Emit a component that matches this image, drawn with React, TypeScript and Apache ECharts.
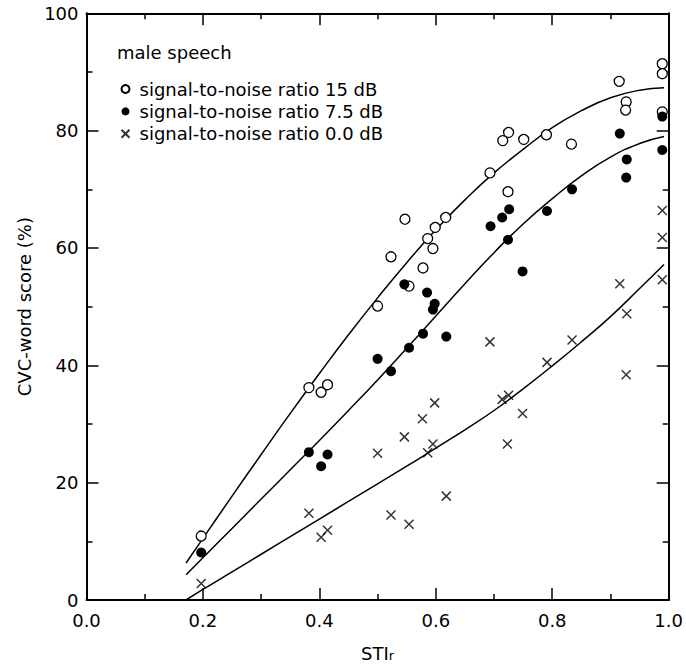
import React, { useEffect, useRef } from "react";
import * as echarts from "echarts";

const legendTitle = "male speech";
const seriesNames = [
  "signal-to-noise ratio 15 dB",
  "signal-to-noise ratio 7.5 dB",
  "signal-to-noise ratio 0.0 dB",
];
const xAxisMain = "STI";
const xAxisSub = "r";
const yAxisTitle = "CVC-word score (%)";

const xRange = [0, 1];
const xStep = 0.2;
const yRange = [0, 100];
const yStep = 20;

// open circles: S/N 15 dB
const snr15Points = [
  [0.197, 10.9], [0.382, 36.2], [0.403, 35.4], [0.414, 36.7], [0.5, 50.1],
  [0.523, 58.5], [0.547, 64.9], [0.554, 53.5], [0.578, 56.6], [0.586, 61.6],
  [0.595, 59.9], [0.599, 63.5], [0.617, 65.2], [0.693, 72.8], [0.715, 78.3],
  [0.725, 79.7], [0.724, 69.6], [0.751, 78.5], [0.79, 79.3], [0.833, 77.7],
  [0.915, 88.4], [0.927, 84.9], [0.926, 83.5], [0.989, 91.4], [0.989, 89.7],
  [0.989, 83.2],
];

// filled circles: S/N 7.5 dB
const snr75Points = [
  [0.197, 8.1], [0.382, 25.2], [0.403, 22.8], [0.414, 24.8], [0.5, 41.1],
  [0.523, 39.0], [0.546, 53.8], [0.554, 43.0], [0.578, 45.4], [0.585, 52.4],
  [0.598, 50.5], [0.595, 49.5], [0.618, 44.9], [0.694, 63.7], [0.714, 65.2],
  [0.726, 66.6], [0.724, 61.4], [0.749, 56.0], [0.791, 66.3], [0.834, 70.0],
  [0.916, 79.5], [0.928, 75.1], [0.927, 72.0], [0.989, 82.4], [0.989, 76.7],
];

// crosses: S/N 0.0 dB
const snr0Points = [
  [0.197, 2.8], [0.382, 14.8], [0.403, 10.7], [0.414, 11.9], [0.5, 25.0],
  [0.523, 14.5], [0.546, 27.8], [0.554, 12.9], [0.577, 30.9], [0.586, 25.1],
  [0.595, 26.6], [0.598, 33.6], [0.618, 17.7], [0.693, 44.0], [0.714, 34.2],
  [0.725, 34.9], [0.723, 26.6], [0.749, 31.8], [0.791, 40.5], [0.834, 44.3],
  [0.916, 53.9], [0.928, 48.8], [0.927, 38.4], [0.989, 66.4], [0.989, 61.8],
  [0.989, 54.6],
];

// fitted curves
const fit15 = [
  [0.171, 6.3], [0.2, 10.5], [0.25, 17.7], [0.3, 24.8], [0.35, 31.8],
  [0.4, 38.6], [0.45, 45.2], [0.5, 51.5], [0.55, 57.5], [0.6, 63.1],
  [0.65, 68.2], [0.7, 72.8], [0.75, 76.8], [0.8, 80.5], [0.85, 83.4],
  [0.9, 85.6], [0.95, 86.9], [0.992, 87.3],
];
const fit75 = [
  [0.171, 4.3], [0.2, 7.2], [0.25, 12.2], [0.3, 17.2], [0.35, 22.2],
  [0.4, 27.2], [0.45, 32.3], [0.5, 37.5], [0.55, 42.9], [0.6, 48.4],
  [0.65, 53.9], [0.7, 59.2], [0.75, 64.1], [0.8, 68.4], [0.85, 72.3],
  [0.9, 75.5], [0.95, 77.8], [0.992, 79.0],
];
const fit0 = [
  [0.171, 0.0], [0.2, 1.8], [0.25, 4.8], [0.3, 7.8], [0.35, 10.8],
  [0.4, 13.8], [0.45, 16.8], [0.5, 19.8], [0.55, 22.8], [0.6, 25.9],
  [0.65, 29.0], [0.7, 32.3], [0.75, 36.0], [0.8, 39.9], [0.85, 44.0],
  [0.9, 48.3], [0.95, 53.1], [0.992, 57.2],
];

const FONT = "DejaVu Sans";
const crossPath = "path://M0 0L10 10M10 0L0 10";

function axisCommon(extra: any) {
  return {
    type: "value",
    splitLine: { show: false },
    axisLine: { show: true, onZero: false, lineStyle: { color: "#000", width: 2 } },
    axisTick: { show: true, inside: true, length: 12, lineStyle: { color: "#000", width: 1.5 } },
    minorTick: { show: true, splitNumber: 2, length: 6, lineStyle: { color: "#000", width: 1.5 } },
    ...extra,
  };
}

export default function App() {
  const ref = useRef<HTMLDivElement>(null);
  useEffect(() => {
    if (!ref.current) return;
    const chart = echarts.init(ref.current, null, { renderer: "svg" });
    const lineSeries = (data: number[][]) => ({
      type: "line",
      data,
      smooth: 0.5,
      showSymbol: false,
      silent: true,
      lineStyle: { color: "#000", width: 1.5 },
      z: 1,
    });
    chart.setOption({
      animation: false,
      backgroundColor: "#fff",
      grid: { left: 86.5, top: 13.3, width: 586.5, height: 586.7, containLabel: false },
      title: {
        text: legendTitle,
        left: 117,
        top: 43,
        textStyle: { fontFamily: FONT, fontSize: 18, fontWeight: "normal", color: "#000", lineHeight: 18 },
        padding: 0,
      },
      legend: {
        data: seriesNames,
        orient: "vertical",
        left: 119,
        top: 80,
        padding: 0,
        itemWidth: 8,
        itemHeight: 8,
        itemGap: 4.4,
        textStyle: { fontFamily: FONT, fontSize: 18, lineHeight: 18, color: "#000", padding: [0, 0, 0, 5] },
      },
      xAxis: [
        axisCommon({
          position: "bottom",
          min: xRange[0],
          max: xRange[1],
          interval: xStep,
          axisLabel: {
            margin: 11,
            fontFamily: FONT,
            fontSize: 18,
            color: "#000",
            formatter: (v: number) => v.toFixed(1),
          },
          name: "{a|" + xAxisMain + "}{b|" + xAxisSub + "}",
          nameLocation: "middle",
          nameGap: 44,
          nameTextStyle: {
            color: "#000",
            rich: {
              a: { fontFamily: FONT, fontSize: 18, lineHeight: 18, verticalAlign: "top", color: "#000" },
              b: { fontFamily: FONT, fontSize: 13, lineHeight: 13, verticalAlign: "bottom", padding: [9, 0, 0, 0], color: "#000" },
            },
          },
        }),
        axisCommon({
          position: "top",
          min: xRange[0],
          max: xRange[1],
          interval: xStep,
          axisLabel: { show: false },
        }),
      ],
      yAxis: [
        axisCommon({
          position: "left",
          min: yRange[0],
          max: yRange[1],
          interval: yStep,
          axisLabel: { margin: 8, fontFamily: FONT, fontSize: 18, color: "#000" },
          name: yAxisTitle,
          nameLocation: "middle",
          nameGap: 49,
          nameTextStyle: { fontFamily: FONT, fontSize: 18, color: "#000" },
        }),
        axisCommon({
          position: "right",
          min: yRange[0],
          max: yRange[1],
          interval: yStep,
          axisLabel: { show: false },
        }),
      ],
      series: [
        lineSeries(fit15),
        lineSeries(fit75),
        lineSeries(fit0),
        {
          name: seriesNames[0],
          type: "scatter",
          data: snr15Points,
          symbol: "circle",
          symbolSize: 10,
          itemStyle: { color: "#fff", borderColor: "#000", borderWidth: 1.3, opacity: 1 },
          z: 3,
        },
        {
          name: seriesNames[1],
          type: "scatter",
          data: snr75Points,
          symbol: "circle",
          symbolSize: 10,
          itemStyle: { color: "#000", opacity: 1 },
          z: 4,
        },
        {
          name: seriesNames[2],
          type: "scatter",
          data: snr0Points,
          symbol: crossPath,
          symbolSize: 9,
          itemStyle: { color: "none", borderColor: "#000", borderWidth: 1.5 },
          z: 4,
        },
      ],
    });
    return () => chart.dispose();
  }, []);
  return (
    <div
      ref={ref}
      style={{ position: "fixed", left: 0, top: 0, width: 686, height: 668, background: "#fff" }}
    />
  );
}
